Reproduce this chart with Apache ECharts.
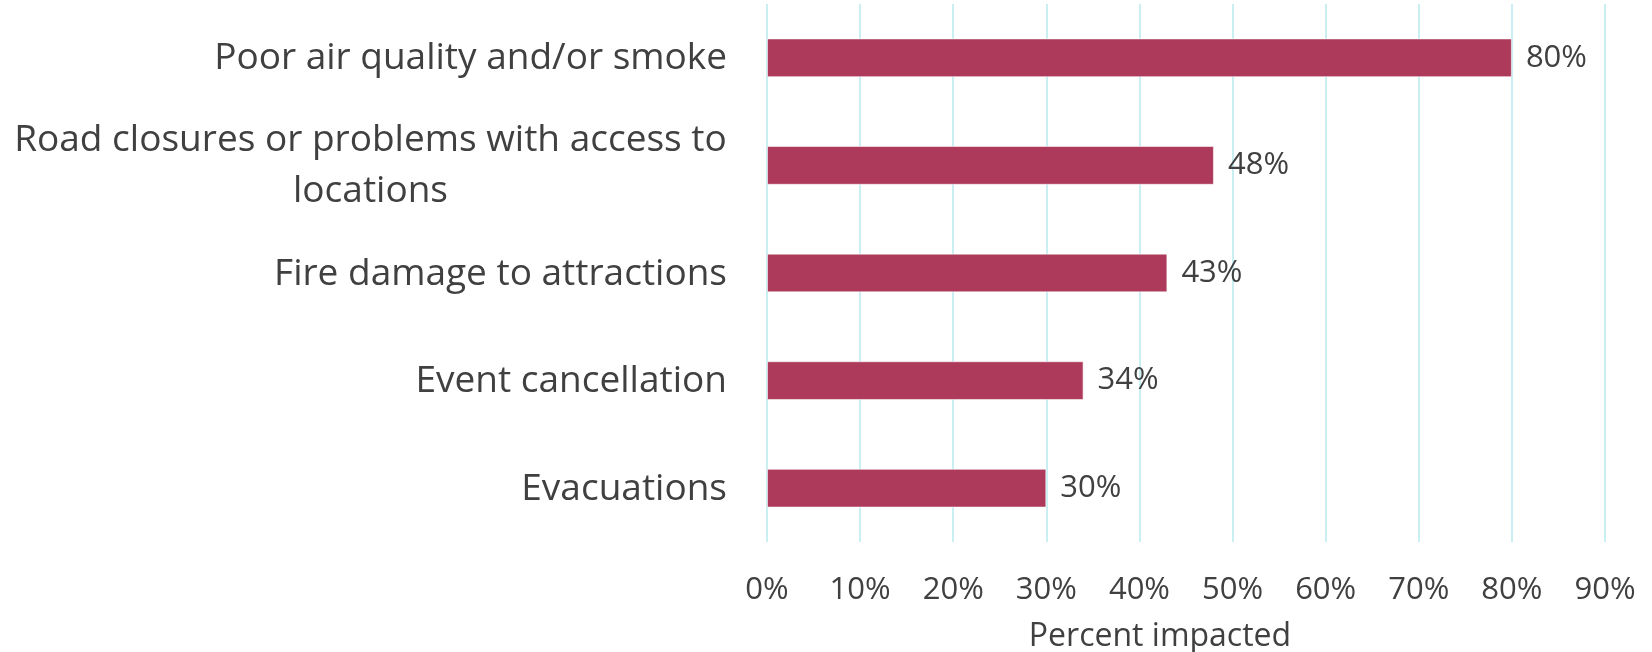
<!DOCTYPE html>
<html>
<head>
<meta charset="utf-8">
<script src="https://cdn.jsdelivr.net/npm/echarts@6/dist/echarts.min.js"></script>
<style>
  html, body { margin: 0; padding: 0; background: #ffffff; }
  #chart { width: 1652px; height: 652px; }
</style>
</head>
<body>
<div id="chart"></div>
<script>
// Wildfire impacts reported, share of respondents
const categories = [
  'Poor air quality and/or smoke',
  'Road closures or problems with access to\nlocations',
  'Fire damage to attractions',
  'Event cancellation',
  'Evacuations'
];
const percentImpacted = [80, 48, 43, 34, 30];
const xTicks = { min: 0, max: 90, interval: 10 };

const FONT = '"Open Sans"';
const CAT_SIZE = 37;
const TICK_SIZE = 31;
const TEXT_COLOR = '#404040';

// Measure text so multi-line category labels can be centred within their block
const measureCtx = document.createElement('canvas').getContext('2d');
measureCtx.font = CAT_SIZE + 'px ' + FONT;
function textWidth(s) { return Math.ceil(measureCtx.measureText(s).width); }

function draw() {
  const chart = echarts.init(document.getElementById('chart'));
  const longest = Math.max.apply(null, categories.map(function (c) {
    return Math.max.apply(null, c.split('\n').map(textWidth));
  }));
  chart.setOption({
    animation: false,
    textStyle: { fontFamily: FONT },
    grid: {
      left: 767, right: 47, top: 4, bottom: 110,
      containLabel: false,
      outerBoundsMode: 'none'
    },
    xAxis: {
      type: 'value',
      min: xTicks.min,
      max: xTicks.max,
      interval: xTicks.interval,
      axisLine: { show: false },
      axisTick: { show: false },
      splitLine: { show: true, lineStyle: { color: '#c9eff3', width: 2 } },
      axisLabel: {
        formatter: '{value}%',
        fontSize: TICK_SIZE,
        color: TEXT_COLOR,
        margin: 33,
        fontFamily: FONT
      },
      name: 'Percent impacted',
      nameLocation: 'middle',
      nameGap: 79,
      nameTextStyle: {
        fontSize: 32,
        color: TEXT_COLOR,
        fontFamily: FONT,
        padding: [0, 52, 0, 0]
      }
    },
    yAxis: {
      type: 'category',
      data: categories,
      inverse: true,
      axisLine: { show: false },
      axisTick: { show: false },
      splitLine: { show: false },
      axisLabel: {
        fontSize: CAT_SIZE,
        color: TEXT_COLOR,
        margin: 40,
        lineHeight: 51,
        fontFamily: FONT,
        padding: [2, 0, 0, 0],
        formatter: function (value) {
          const lines = value.split('\n');
          if (lines.length === 1) return value;
          return lines.map(function (l) { return '{c|' + l + '}'; }).join('\n');
        },
        rich: {
          c: {
            fontSize: CAT_SIZE,
            color: TEXT_COLOR,
            lineHeight: 51,
            fontFamily: FONT,
            align: 'center',
            width: longest
          }
        }
      }
    },
    series: [{
      type: 'bar',
      data: percentImpacted,
      barWidth: '36%',
      itemStyle: {
        color: '#ad3a5a',
        borderColor: 'rgba(255,255,255,0.55)',
        borderWidth: 1
      },
      label: {
        show: true,
        position: 'right',
        distance: 14,
        formatter: '{c}%',
        fontSize: TICK_SIZE,
        color: TEXT_COLOR,
        fontFamily: FONT
      }
    }]
  });
}

if (document.fonts && document.fonts.load) {
  document.fonts.load(CAT_SIZE + 'px ' + FONT).then(draw, draw);
} else {
  draw();
}
</script>
</body>
</html>
